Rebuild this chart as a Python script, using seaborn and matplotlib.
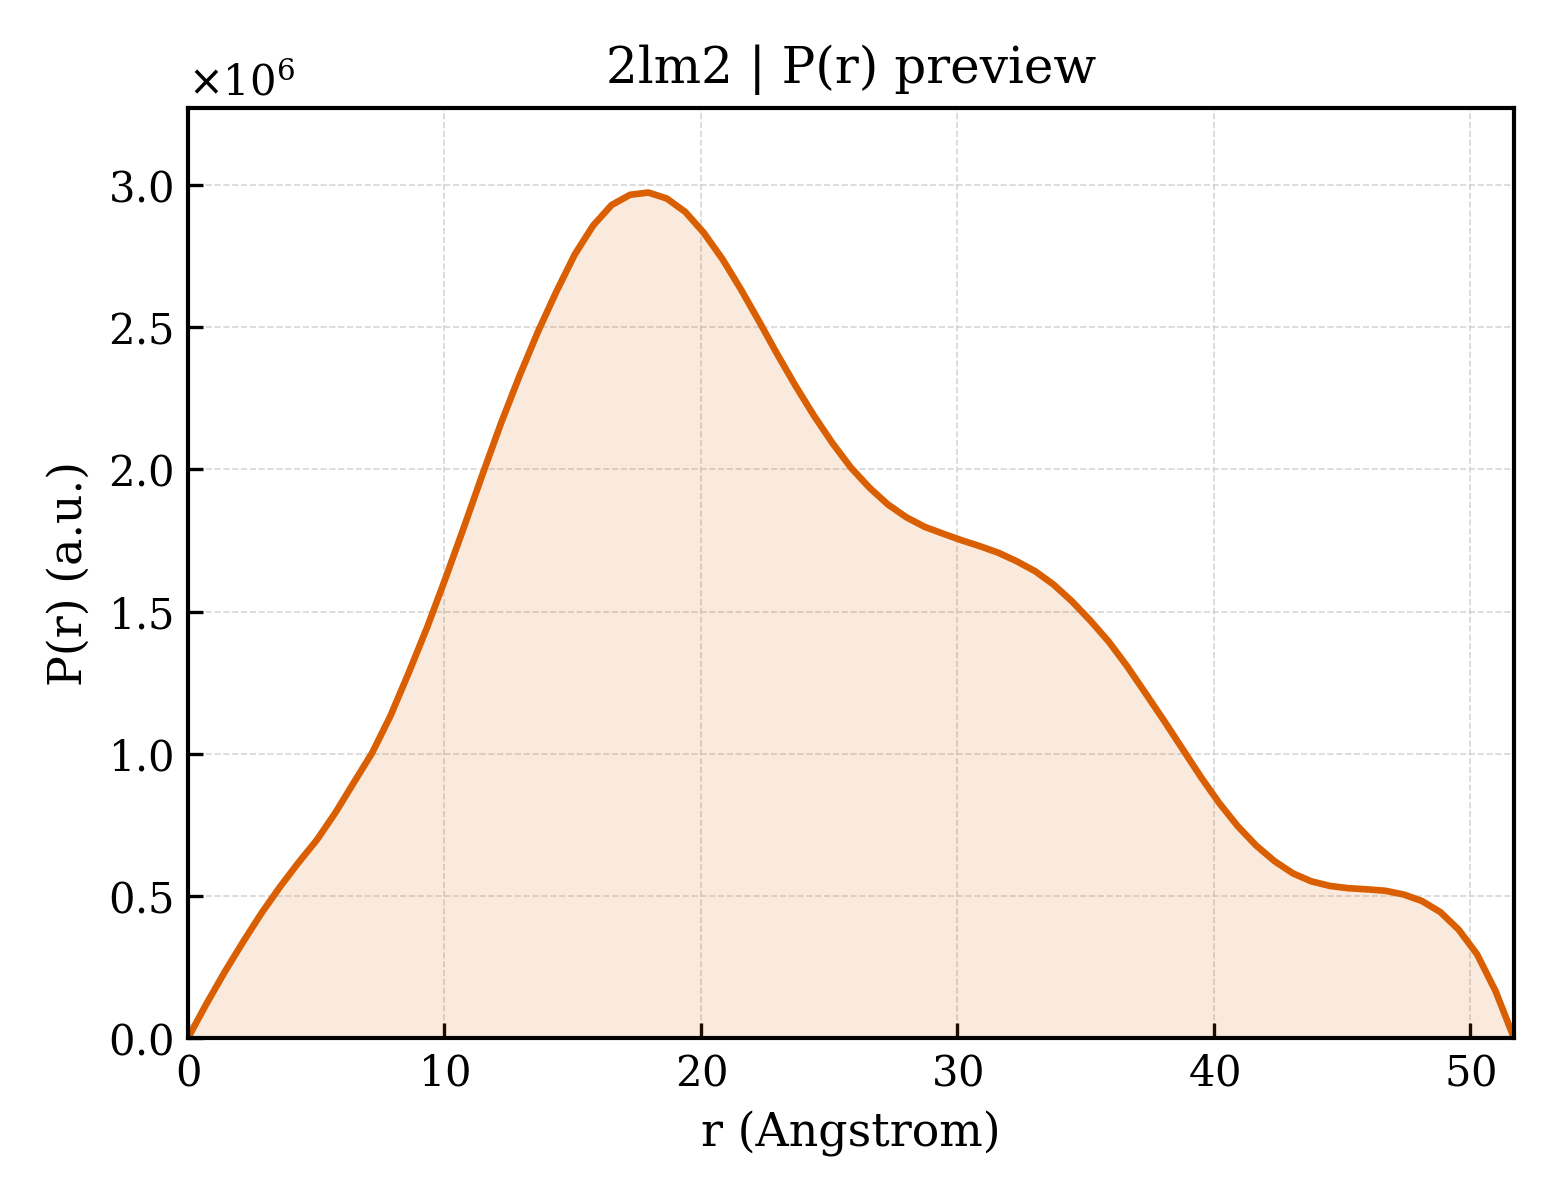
import numpy as np
import pandas as pd
import matplotlib
matplotlib.use("Agg")
import matplotlib.pyplot as plt
import seaborn as sns

# P(r) curve (r in Angstrom, P in units of 1e6)
d_max = 51.7
r = np.linspace(0, d_max, 73)
pr_e6 = [
    0.000, 0.120, 0.233, 0.339, 0.440, 0.532, 0.617, 0.697, 0.792, 0.898,
    1.003, 1.134, 1.287, 1.447, 1.620, 1.800, 1.984, 2.163, 2.329, 2.484,
    2.625, 2.756, 2.858, 2.930, 2.966, 2.974, 2.953, 2.906, 2.833, 2.742,
    2.636, 2.522, 2.405, 2.293, 2.188, 2.092, 2.006, 1.936, 1.877, 1.832,
    1.798, 1.774, 1.751, 1.730, 1.707, 1.677, 1.642, 1.595, 1.536, 1.468,
    1.394, 1.307, 1.212, 1.116, 1.017, 0.918, 0.826, 0.745, 0.677, 0.622,
    0.579, 0.551, 0.535, 0.527, 0.523, 0.518, 0.505, 0.482, 0.443, 0.381,
    0.294, 0.165, 0.000,
]
pdb_id = "2lm2"
line_color = "#D95F02"

df = pd.DataFrame({"r": r, "P": np.array(pr_e6) * 1e6})

sns.set_theme(style="ticks")
plt.rcParams["font.family"] = ["DejaVu Serif"]
plt.rcParams["axes.formatter.use_mathtext"] = True
for key in ["text.color", "axes.labelcolor", "xtick.color", "ytick.color"]:
    plt.rcParams[key] = "black"

fig, ax = plt.subplots(figsize=(5.2, 4), dpi=300)
fig.subplots_adjust(left=0.1205, right=0.9705, bottom=0.135, top=0.91)

sns.lineplot(data=df, x="r", y="P", color=line_color, linewidth=1.6, ax=ax)
ax.fill_between(df["r"], df["P"], 0, color=line_color, alpha=0.13, linewidth=0)

ax.set_xlim(0, df["r"].max())
ax.set_ylim(0, df["P"].max() * 1.1)
ax.set_xlabel("r (Angstrom)", fontsize=11)
ax.set_ylabel("P(r) (a.u.)", fontsize=11)
ax.set_title(f"{pdb_id} | P(r) preview", fontsize=12)

ax.grid(True, linestyle="--", linewidth=0.4, color="#cccccc", alpha=0.8)
ax.tick_params(direction="in", length=3.5, width=0.8, labelsize=10)
for s in ax.spines.values():
    s.set_linewidth(1.0)
    s.set_color("black")
ax.yaxis.get_offset_text().set_fontsize(10)

fig.savefig("out.png", dpi=300)
